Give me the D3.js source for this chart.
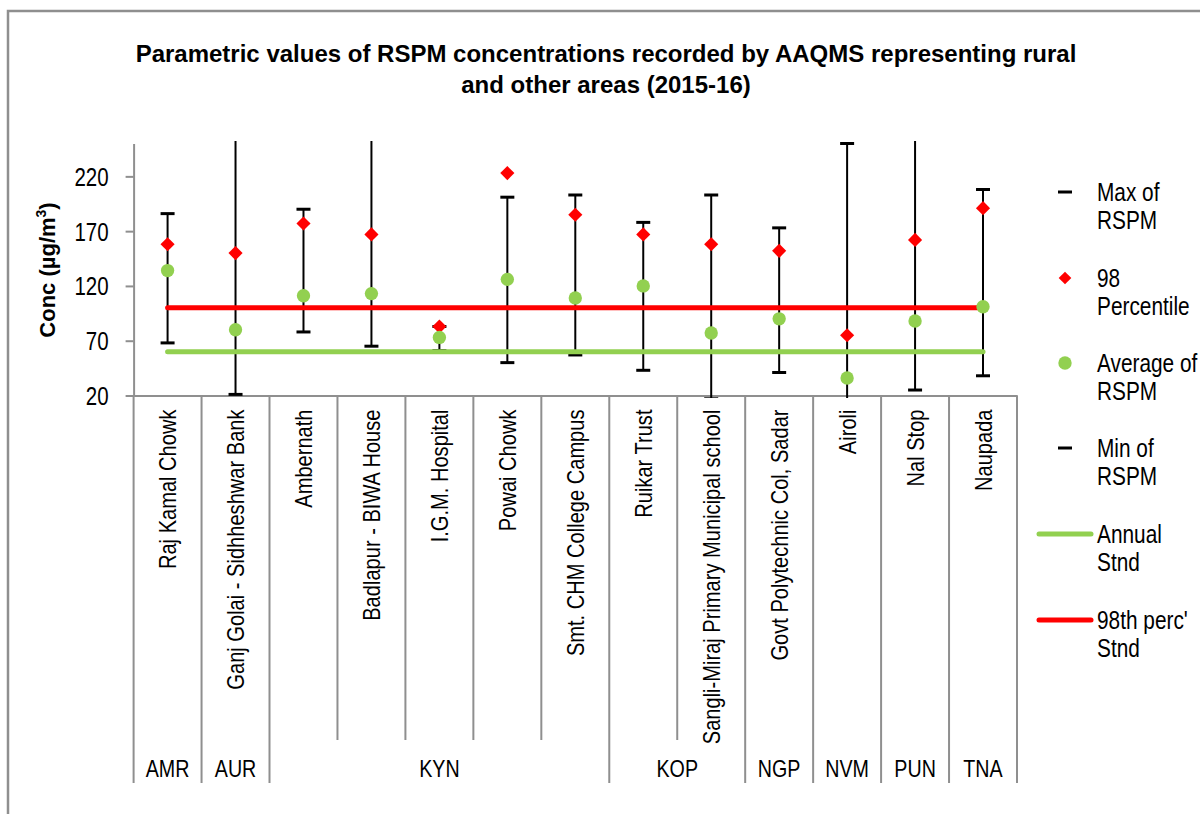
<!DOCTYPE html>
<html><head><meta charset="utf-8">
<script src="https://cdn.jsdelivr.net/npm/d3@7"></script>
<style>html,body{margin:0;padding:0;background:#fff;} svg{display:block}</style>
</head><body><div id="chart"></div>
<script>
// ---------------- data ----------------
const stations = ["Raj Kamal Chowk","Ganj Golai - Sidhheshwar Bank","Ambernath","Badlapur - BIWA House","I.G.M. Hospital","Powai Chowk","Smt. CHM College Campus","Ruikar Trust","Sangli-Miraj Primary Municipal school","Govt Polytechnic Col, Sadar","Airoli","Nal Stop","Naupada"];
const regions  = ["AMR","AUR","KYN","KYN","KYN","KYN","KYN","KOP","KOP","NGP","NVM","PUN","TNA"];
const maxRSPM  = [186,265,190,270,83,201,203,178,203,173,250,262,208];
const p98RSPM  = [158,150,177,167,83,223,185,167,158,152,75,162,191];
const avgRSPM  = [134,80,111,113,73,126,109,120,77,90,36,88,101];
const minRSPM  = [68,21,78,65,61,50,57,43,17,41,16,25,38];
const annualStnd = 60;
const perc98Stnd = 100;
const yTicks = [20,70,120,170,220];
const titleLines = ["Parametric values of RSPM concentrations recorded by AAQMS representing rural","and other areas (2015-16)"];
const legendLabels = [["Max of","RSPM"],["98","Percentile"],["Average of","RSPM"],["Min of","RSPM"],["Annual","Stnd"],["98th perc'","Stnd"]];

// ---------------- font ----------------
const narrowAvail = (()=>{try{const c=document.createElement('canvas').getContext('2d');const s='Raj Kamal Chowk 0123';
  c.font="24px monospace";const m=c.measureText(s).width;c.font="24px 'Liberation Sans Narrow', monospace";const n=c.measureText(s).width;return Math.abs(m-n)>1;}catch(e){return false;}})();
const FONT = narrowAvail ? "'Liberation Sans Narrow', 'Arial Narrow', sans-serif" : "'Liberation Sans', Arial, sans-serif";
const SX = narrowAvail ? 1 : 0.82;
const WIDE = "'Liberation Sans', Arial, sans-serif";

const W=1200,H=814;
const svg=d3.select('#chart').append('svg').attr('width',W).attr('height',H);
svg.append('rect').attr('width',W).attr('height',H).attr('fill','#fff');

function txt(parent,x,y,s,o={}){
  const sx = o.wide ? 1 : SX;
  const t=parent.append('text').attr('transform',`translate(${x},${y}) rotate(${o.rot||0}) scale(${sx},1)`)
    .attr('font-family',o.wide?WIDE:FONT).attr('font-size',o.size||24).attr('font-weight',o.weight||'normal')
    .attr('text-anchor',o.anchor||'start').attr('fill','#000');
  if(s!==null) t.text(s);
  return t;
}

// border
const gray='#8f8f8f';
svg.append('path').attr('d',`M8,${H} V11 H${W}`).attr('fill','none').attr('stroke',gray).attr('stroke-width',2.5);

// title
titleLines.forEach((l,i)=>txt(svg,606,62+i*31,l,{weight:'bold',anchor:'middle',size:24,wide:true}));

// scales
const x=d3.scaleBand().domain(stations).range([133.6,1017]).padding(0);
const y=d3.scaleLinear().domain([20,250]).range([395.5,143.5]);
const cx=d=>x(d)+x.bandwidth()/2;

// y axis
const ya=svg.append('g').attr('transform','translate(133.6,0)')
  .call(d3.axisLeft(y).tickValues(yTicks).tickSize(8).tickSizeOuter(0));
ya.select('.domain').attr('stroke',gray).attr('stroke-width',2);
ya.selectAll('.tick line').attr('stroke',gray).attr('stroke-width',2);
ya.selectAll('.tick text').attr('font-family',FONT).attr('font-size',25).attr('fill','#000')
  .attr('transform',`scale(${SX},1)`).attr('x',-25/SX).attr('dy','0.36em');

// y title
const yt=txt(svg,55,270,null,{weight:'bold',anchor:'middle',rot:-90,size:22,wide:true});
yt.append('tspan').text('Conc (µg/m');
yt.append('tspan').attr('font-size',14).attr('dy',-9).text('3');
yt.append('tspan').attr('dy',9).text(')');

// x axis
const xa=svg.append('g').attr('transform',`translate(0,${y(20)})`)
  .call(d3.axisBottom(x).tickSize(0).tickSizeOuter(0));
xa.select('.domain').attr('stroke',gray).attr('stroke-width',2);
xa.selectAll('.tick text').attr('font-family',FONT).attr('font-size',24.5).attr('fill','#000')
  .attr('text-anchor','end').attr('transform',`rotate(-90) scale(${SX},1)`)
  .attr('x',-14/SX).attr('y',8.7).attr('dy',null);

// separators
const bw=x.bandwidth();
for(let i=0;i<=stations.length;i++){
  const bx = i<stations.length ? x(stations[i]) : x.range()[1];
  const isGroup = i===0 || i===stations.length || regions[i]!==regions[i-1];
  svg.append('line').attr('x1',bx).attr('x2',bx).attr('y1',y(20)).attr('y2',isGroup?783:740)
    .attr('stroke',gray).attr('stroke-width',2);
}
// group labels
const groups=[];
regions.forEach((r,i)=>{ if(!groups.length||groups[groups.length-1].r!==r) groups.push({r,s:i,e:i}); else groups[groups.length-1].e=i; });
groups.forEach(g=>{
  const gx=(x(stations[g.s])+x(stations[g.e])+bw)/2;
  txt(svg,gx,777,g.r,{anchor:'middle',size:24});
});

// clip
svg.append('clipPath').attr('id','plotclip').append('rect').attr('x',120).attr('y',141).attr('width',910).attr('height',257);
const plot=svg.append('g').attr('clip-path','url(#plotclip)');

// high-low lines
plot.selectAll('.hl').data(stations).enter().append('line')
  .attr('x1',d=>cx(d)).attr('x2',d=>cx(d))
  .attr('y1',(d,i)=>y(maxRSPM[i])).attr('y2',(d,i)=>y(minRSPM[i]))
  .attr('stroke','#000').attr('stroke-width',2);
// caps
[maxRSPM,minRSPM].forEach(arr=>{
  plot.selectAll(null).data(stations).enter().append('line')
    .attr('x1',d=>cx(d)-7).attr('x2',d=>cx(d)+7)
    .attr('y1',(d,i)=>y(arr[i])).attr('y2',(d,i)=>y(arr[i]))
    .attr('stroke','#000').attr('stroke-width',3);
});

// standard lines
const x0=cx(stations[0]), x1=cx(stations[stations.length-1]);
svg.append('line').attr('x1',x0).attr('x2',x1).attr('y1',y(annualStnd)).attr('y2',y(annualStnd))
  .attr('stroke','#92D050').attr('stroke-width',5).attr('stroke-linecap','round');
svg.append('line').attr('x1',x0).attr('x2',x1).attr('y1',y(perc98Stnd)).attr('y2',y(perc98Stnd))
  .attr('stroke','#FF0000').attr('stroke-width',5).attr('stroke-linecap','round');

// markers
const diamond=d3.symbol(d3.symbolSquare,100)();
const circle=d3.symbol(d3.symbolCircle,140)();
svg.selectAll('.dm').data(stations).enter().append('path').attr('d',diamond)
  .attr('transform',(d,i)=>`translate(${cx(d)},${y(p98RSPM[i])}) rotate(45)`).attr('fill','#FF0000');
svg.selectAll('.ci').data(stations).enter().append('path').attr('d',circle)
  .attr('transform',(d,i)=>`translate(${cx(d)},${y(avgRSPM[i])})`).attr('fill','#92D050');

// legend
const lg=svg.append('g');
const rowY=[192,278,363,448,534,620];
const lx=1065;
lg.append('line').attr('x1',lx-7).attr('x2',lx+7).attr('y1',rowY[0]).attr('y2',rowY[0]).attr('stroke','#000').attr('stroke-width',3);
lg.append('path').attr('d',d3.symbol(d3.symbolSquare,80)()).attr('transform',`translate(${lx},${rowY[1]}) rotate(45)`).attr('fill','#FF0000');
lg.append('path').attr('d',circle).attr('transform',`translate(${lx},${rowY[2]})`).attr('fill','#92D050');
lg.append('line').attr('x1',lx-7).attr('x2',lx+7).attr('y1',rowY[3]).attr('y2',rowY[3]).attr('stroke','#000').attr('stroke-width',3);
lg.append('line').attr('x1',1039).attr('x2',1091).attr('y1',rowY[4]).attr('y2',rowY[4]).attr('stroke','#92D050').attr('stroke-width',5).attr('stroke-linecap','round');
lg.append('line').attr('x1',1039).attr('x2',1091).attr('y1',rowY[5]).attr('y2',rowY[5]).attr('stroke','#FF0000').attr('stroke-width',5).attr('stroke-linecap','round');
legendLabels.forEach((ls,i)=>{
  ls.forEach((l,j)=>txt(lg,1097,rowY[i]+9+j*27.5,l,{size:25.4}));
});
</script>
</body></html>
